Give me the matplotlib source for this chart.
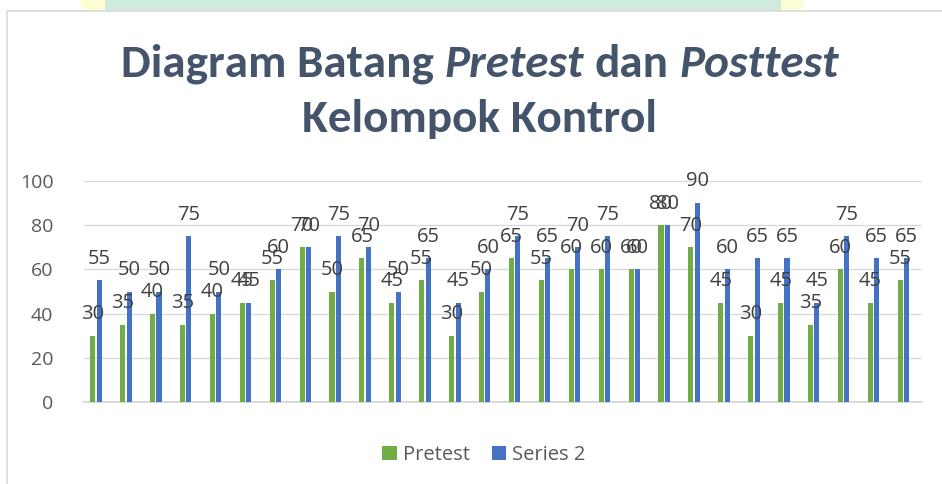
import matplotlib
matplotlib.use('Agg')
import matplotlib.pyplot as plt
import numpy as np
from matplotlib.patches import Patch, Polygon
from matplotlib import font_manager

# data (nilai per siswa, kelompok kontrol)
siswa = list(range(1, 29))
pretest = [30, 35, 40, 35, 40, 45, 55, 70, 50, 65, 45, 55, 30, 50,
           65, 55, 60, 60, 60, 80, 70, 45, 30, 45, 35, 60, 45, 55]
series2 = [55, 50, 50, 75, 50, 45, 60, 70, 75, 70, 50, 65, 45, 60,
           75, 65, 70, 75, 60, 80, 90, 60, 65, 65, 45, 75, 65, 65]
nama_seri = ['Pretest', 'Series 2']
yticks = [0, 20, 40, 60, 80, 100]

hijau = '#70AD47'
biru = '#4472C4'
abu = '#D9D9D9'

nama_font = {f.name for f in font_manager.fontManager.ttflist}
font_judul = next(f for f in ['Carlito', 'Lato', 'Open Sans', 'DejaVu Sans'] if f in nama_font)
font_teks = next(f for f in ['Open Sans', 'Noto Sans', 'DejaVu Sans'] if f in nama_font)
plt.rcParams['font.family'] = font_teks

W, H = 942, 484
fig = plt.figure(figsize=(W / 100, H / 100), dpi=100)

# watermark di atas bingkai
def px(x, y):
    return (x / W, 1 - y / H)

fig.patches.append(Polygon([px(105, 0), px(781, 0), px(781, 11), px(105, 11)],
                           closed=True, transform=fig.transFigure,
                           facecolor='#CFEBDD', edgecolor='none', zorder=0))
fig.patches.append(Polygon([px(78, 0), px(105, 0), px(105, 11), px(83, 11)],
                           closed=True, transform=fig.transFigure,
                           facecolor='#FFFFD6', edgecolor='none', zorder=0))
fig.patches.append(Polygon([px(781, 0), px(805, 0), px(801, 11), px(781, 11)],
                           closed=True, transform=fig.transFigure,
                           facecolor='#FFFFD6', edgecolor='none', zorder=0))
# bingkai chart
fig.patches.append(Polygon([px(7, H + 5), px(7, 11), px(W + 5, 11), px(W + 5, H + 5)],
                           closed=True, transform=fig.transFigure,
                           facecolor='white', edgecolor=abu, lw=1.2, zorder=1))

ax = fig.add_axes([84 / W, 82 / H, 838 / W, 221 / H])
ax.set_zorder(2)
ax.patch.set_alpha(0)

x = np.arange(len(siswa))
lebar = 0.17
geser = 0.107
b1 = ax.bar(x - geser, pretest, lebar, color=hijau, zorder=3)
b2 = ax.bar(x + geser, series2, lebar, color=biru, zorder=3)

for bars in (b1, b2):
    for b in bars:
        ax.annotate(f'{int(b.get_height())}',
                    (b.get_x() + b.get_width() / 2, b.get_height()),
                    xytext=(0, 12), textcoords='offset points',
                    ha='center', va='baseline', fontsize=14.5, color='#404040',
                    zorder=5, annotation_clip=False)

ax.set_xlim(-0.4, len(siswa) - 1 + 0.62)
ax.set_ylim(0, 100)
ax.set_yticks(yticks)
ax.set_xticks([])
ax.yaxis.grid(True, color=abu, lw=1.0)
ax.set_axisbelow(True)
ax.tick_params(axis='y', length=0, pad=22, labelsize=14, labelcolor='#595959')
for s in ['top', 'right', 'left']:
    ax.spines[s].set_visible(False)
ax.spines['bottom'].set_color(abu)
ax.spines['bottom'].set_linewidth(1.4)

# legenda
handles = [Patch(facecolor=hijau, edgecolor='none'), Patch(facecolor=biru, edgecolor='none')]
fig.legend(handles, nama_seri, loc='center', bbox_to_anchor=(484 / W, 1 - 455 / H),
           ncol=2, frameon=False, fontsize=14.5, labelcolor='#595959',
           handlelength=0.72, handleheight=0.72, handletextpad=0.3, columnspacing=1.1)

# judul dengan kata miring
warna_judul = '#44546A'
bagian = [('Diagram Batang', 'normal'), ('Pretest', 'italic'),
          ('dan', 'normal'), ('Posttest', 'italic')]
r = fig.canvas.get_renderer()

def ukur(teks, gaya, ukuran):
    t = fig.text(0, 0, teks, fontsize=ukuran, fontweight='bold', style=gaya,
                 family=font_judul)
    w = t.get_window_extent(r).width
    t.remove()
    return w

def total(ukuran):
    spasi = ukur('x x', 'normal', ukuran) - ukur('xx', 'normal', ukuran)
    return sum(ukur(s, g, ukuran) for s, g in bagian) + 3 * spasi, spasi

ukuran = 28
w0, _ = total(ukuran)
ukuran = ukuran * 717 / w0
lebar_total, spasi = total(ukuran)
xpos = 480 - lebar_total / 2
y1 = 1 - 76.7 / H
for s, g in bagian:
    fig.text(xpos / W, y1, s, fontsize=ukuran, fontweight='bold', style=g,
             family=font_judul, color=warna_judul, ha='left', va='baseline')
    xpos += ukur(s, g, ukuran) + spasi
fig.text(480 / W, 1 - 131.7 / H, 'Kelompok Kontrol', fontsize=ukuran, fontweight='bold',
         family=font_judul, color=warna_judul, ha='center', va='baseline')

fig.savefig('out.png', dpi=100)
